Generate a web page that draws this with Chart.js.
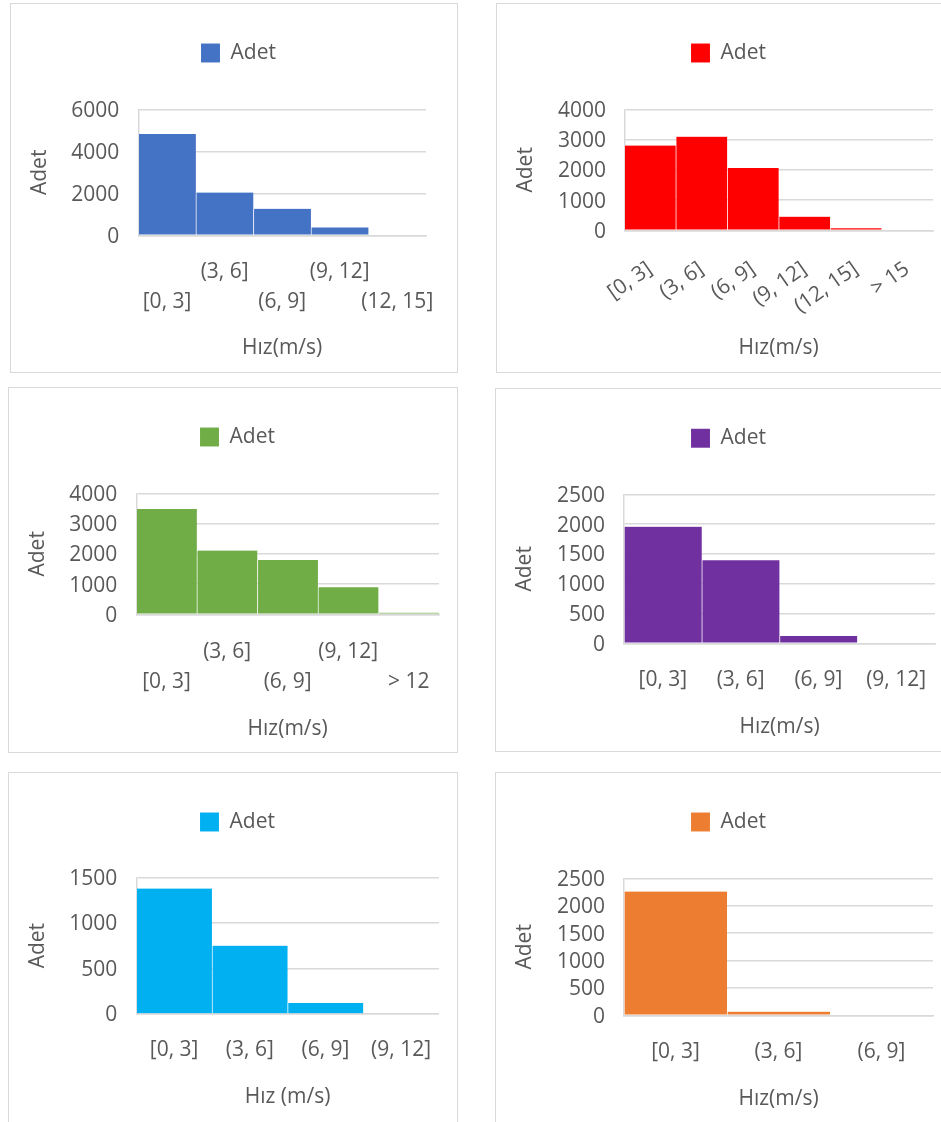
<!DOCTYPE html>
<html lang="tr">
<head>
<meta charset="utf-8">
<title>Hız dağılımları</title>
<script src="https://cdn.jsdelivr.net/npm/chart.js@4.4.1/dist/chart.umd.min.js"></script>
<style>
  html, body { margin: 0; padding: 0; background: #fff; width: 941px; height: 1122px; overflow: hidden; position: relative; }
  .panel { position: absolute; border: 1px solid #d9d9d9; box-sizing: border-box; background: #fff; overflow: hidden; }
  .panel canvas { position: absolute; left: 0; top: 0; }
</style>
</head>
<body>
<script>
// Wind speed classes and counts for each station
const SERIES = 'Adet';

const classes1 = ['[0, 3]', '(3, 6]', '(6, 9]', '(9, 12]', '(12, 15]'];
const counts1  = [4820, 2040, 1265, 375, 0];

const classes2 = ['[0, 3]', '(3, 6]', '(6, 9]', '(9, 12]', '(12, 15]', '> 15'];
const counts2  = [2800, 3095, 2060, 452, 66, 0];

const classes3 = ['[0, 3]', '(3, 6]', '(6, 9]', '(9, 12]', '> 12'];
const counts3  = [3480, 2105, 1795, 893, 55];

const classes4 = ['[0, 3]', '(3, 6]', '(6, 9]', '(9, 12]'];
const counts4  = [1957, 1393, 123, 0];

const classes5 = ['[0, 3]', '(3, 6]', '(6, 9]', '(9, 12]'];
const counts5  = [1376, 750, 121, 0];

const classes6 = ['[0, 3]', '(3, 6]', '(6, 9]'];
const counts6  = [2257, 67, 0];

const yAxisMax  = [6000, 4000, 4000, 2500, 1500, 2500];
const yAxisStep = [2000, 1000, 1000, 500, 500, 500];
const xTitles   = ['Hız(m/s)', 'Hız(m/s)', 'Hız(m/s)', 'Hız(m/s)', 'Hız (m/s)', 'Hız(m/s)'];

// Panel geometry (page pixels): frame box, plot rectangle [left, right, top, bottom]
const frames = [
  { box: [10, 3, 448, 370],  plot: [138.3, 436.5, 109.3, 235.3], legendX: 201, legendY: 43.5,  tickRight: 119.3, yTitleX: 40,  labelY: 272,    titleY: 348,   mode: 'stagger' },
  { box: [496, 3, 460, 370], plot: [624.3, 933, 109.3, 230.3],   legendX: 691, legendY: 43.5,  tickRight: 606,   yTitleX: 526, labelY: 267,    titleY: 348,   mode: 'rotate' },
  { box: [8, 387, 450, 366], plot: [136.3, 439, 493.3, 614.3],   legendX: 200, legendY: 427.5, tickRight: 117.3, yTitleX: 38,  labelY: 652,    titleY: 729,   mode: 'stagger' },
  { box: [495, 388, 460, 364], plot: [624, 935, 494.3, 643.3],   legendX: 691, legendY: 428.8, tickRight: 605,   yTitleX: 525, labelY: 680.3,  titleY: 727,   mode: 'flat' },
  { box: [8, 772, 450, 360], plot: [136.3, 439, 877.3, 1014],    legendX: 200, legendY: 812.5, tickRight: 117.3, yTitleX: 38,  labelY: 1050.3, titleY: 1097,  mode: 'flat' },
  { box: [495, 772, 460, 360], plot: [624, 933, 878.3, 1015.3],  legendX: 691, legendY: 812.5, tickRight: 605,   yTitleX: 525, labelY: 1052,   titleY: 1098.7, mode: 'flat' }
];

const colors = ['#4472C4', '#FF0000', '#70AD47', '#7030A0', '#00B0F0', '#ED7D31'];

const FONT = 21;
const FAMILY = '"Open Sans", sans-serif';
const INK = '#595959';
const GRID = '#d9d9d9';
const BOX = 19;
const LEGEND_PAD = 10;

const measure = (() => {
  const ctx = document.createElement('canvas').getContext('2d');
  ctx.font = FONT + 'px ' + FAMILY;
  return t => ctx.measureText(t).width;
})();

// Adds empty space under the legend row
const legendGap = {
  id: 'legendGap',
  beforeLayout(chart, args, opts) {
    const lg = chart.legend;
    if (!lg || lg._gapPatched) return;
    const fit = lg.fit;
    const gap = opts.gap || 0;
    lg.fit = function () { fit.call(this); this.height += gap; };
    lg._gapPatched = true;
  }
};

function drawPanel(f, labels, values, color, xTitle, yMax, yStep) {
  const [bx, by, bw, bh] = f.box;
  const panel = document.createElement('div');
  panel.className = 'panel';
  Object.assign(panel.style, { left: bx + 'px', top: by + 'px', width: bw + 'px', height: bh + 'px' });
  const canvas = document.createElement('canvas');
  const W = bw - 2, H = bh - 2;
  canvas.width = W; canvas.height = H;
  canvas.style.width = W + 'px'; canvas.style.height = H + 'px';
  panel.appendChild(canvas);
  document.body.appendChild(panel);

  const cx = bx + 1, cy = by + 1;
  const [L, R, T, B] = f.plot;
  const lh = FONT * 1.2;

  const itemW = BOX + FONT / 2 + measure(SERIES);
  const pr = cx + W - R;
  const pl = 2 * (f.legendX + itemW / 2 - cx) - (W - pr);
  const yWidth = L - cx - pl;
  const pt = f.legendY - cy - LEGEND_PAD - Math.max((FONT - BOX) / 2, 0);
  const legendH = Math.max(FONT, BOX) + LEGEND_PAD + 10;
  const gap = (T - cy) - pt - legendH;
  const xHeight = cy + H - B;

  let tickLabels = labels;
  let tickFont = { family: FAMILY, size: FONT };
  let rot = 0;
  let xPad;
  if (f.mode === 'stagger') {
    tickLabels = labels.map((t, i) => (i % 2 ? [t, ''] : ['', t]));
    tickFont = { family: FAMILY, size: FONT, lineHeight: 30 / FONT };
    xPad = f.labelY - B - 15;
  } else if (f.mode === 'rotate') {
    rot = 35;
    xPad = f.labelY - B - Math.cos(rot * Math.PI / 180) * lh / 2;
  } else {
    xPad = f.labelY - B - lh / 2;
  }
  const xTitlePad = cy + H - f.titleY - lh / 2;
  const yTitlePad = f.yTitleX - cx - pl - lh / 2;

  new Chart(canvas, {
    type: 'bar',
    data: {
      labels: tickLabels,
      datasets: [{
        label: SERIES,
        data: values,
        backgroundColor: color,
        borderColor: 'rgba(255,255,255,0.3)',
        borderWidth: { top: 0, left: 1, right: 0, bottom: 0 },
        categoryPercentage: 1,
        barPercentage: 1
      }]
    },
    options: {
      responsive: false,
      animation: false,
      devicePixelRatio: 1,
      layout: { padding: { left: pl, right: pr, top: pt, bottom: 0 } },
      plugins: {
        legend: {
          display: true,
          position: 'top',
          labels: { boxWidth: BOX, boxHeight: BOX, padding: LEGEND_PAD, color: INK, font: { family: FAMILY, size: FONT } }
        },
        tooltip: { enabled: false },
        legendGap: { gap }
      },
      scales: {
        x: {
          grid: { display: false, drawTicks: false },
          border: { display: true, color: GRID, width: 1.5 },
          ticks: { color: INK, font: tickFont, padding: xPad, autoSkip: false, minRotation: rot, maxRotation: rot },
          title: { display: true, text: xTitle, color: INK, font: { family: FAMILY, size: FONT }, padding: { top: 0, bottom: xTitlePad } },
          afterFit: s => { s.height = xHeight; }
        },
        y: {
          min: 0,
          max: yMax,
          ticks: { stepSize: yStep, autoSkip: false, color: INK, font: { family: FAMILY, size: FONT }, padding: L - f.tickRight, labelOffset: 1.5, callback: v => String(v) },
          grid: { color: GRID, lineWidth: 1.5, drawTicks: false },
          border: { display: true, color: GRID, width: 1.5 },
          title: { display: true, text: SERIES, color: INK, font: { family: FAMILY, size: FONT }, padding: { top: yTitlePad, bottom: 0 } },
          afterFit: s => { s.width = yWidth; }
        }
      }
    },
    plugins: [legendGap]
  });
}

const classSets = [classes1, classes2, classes3, classes4, classes5, classes6];
const countSets = [counts1, counts2, counts3, counts4, counts5, counts6];

frames.forEach((f, i) => {
  drawPanel(f, classSets[i], countSets[i], colors[i], xTitles[i], yAxisMax[i], yAxisStep[i]);
});
</script>
</body>
</html>
